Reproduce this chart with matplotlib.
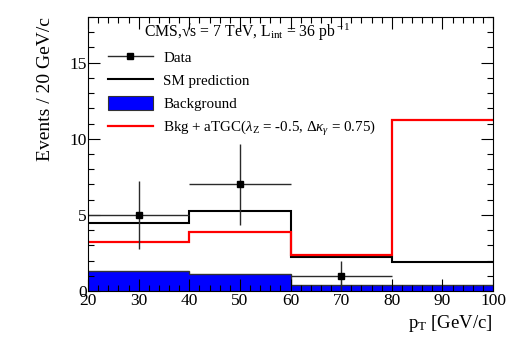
import matplotlib
matplotlib.use("Agg")
import matplotlib.pyplot as plt
from matplotlib.lines import Line2D
from matplotlib.patches import Patch
from matplotlib.ticker import MultipleLocator

plt.rcParams['font.family'] = ['Liberation Serif', 'DejaVu Serif']
plt.rcParams['mathtext.fontset'] = 'custom'
plt.rcParams['mathtext.rm'] = 'Liberation Serif'
plt.rcParams['mathtext.it'] = 'Liberation Serif:italic'
plt.rcParams['mathtext.fallback'] = 'stix'

# bin edges in pT [GeV/c]
edges = [20, 40, 60, 80, 100]
# histograms
background = [1.3, 1.1, 0.4, 0.4]
sm_pred = [4.45, 5.25, 2.25, 1.93]
atgc = [3.2, 3.9, 2.35, 11.25]
# data points
data_x = [30, 50, 70]
data_y = [5, 7, 1]
data_err = [2.24, 2.65, 1.0]
data_xerr = [10, 10, 10]

fig = plt.figure(figsize=(5.19, 3.51), dpi=100)
ax = fig.add_axes([0.1696, 0.171, 0.7804, 0.7806])

ax.stairs(background, edges, fill=True, facecolor='#0000ff', edgecolor='none')
ax.stairs(background, edges, baseline=None, color='#333333', lw=1.0)
ax.stairs(sm_pred, edges, baseline=None, color='black', lw=1.5)
ax.stairs(atgc, edges, baseline=None, color='#ff0000', lw=1.6)
ax.errorbar(data_x, data_y, yerr=data_err, xerr=data_xerr, fmt='s', color='black',
            ecolor='#2a2a2a', elinewidth=1.0, ms=4.5, capsize=0)

ax.set_xlim(20, 100)
ax.set_ylim(0, 18)
ax.xaxis.set_major_locator(MultipleLocator(10))
ax.xaxis.set_minor_locator(MultipleLocator(2))
ax.yaxis.set_major_locator(MultipleLocator(5))
ax.yaxis.set_minor_locator(MultipleLocator(1))
ax.tick_params(which='both', direction='in', top=True, right=True, labelsize=12.5)
ax.tick_params(which='major', length=8.5, width=0.8)
ax.tick_params(which='minor', length=4.3, width=0.8)
ax.tick_params(axis='x', pad=1.5)
ax.tick_params(axis='y', pad=1)

ax.set_ylabel('Events / 20 GeV/c', fontsize=14, loc='top', labelpad=11)
ax.set_xlabel(r'p$_{\rm T}$ [GeV/c]', fontsize=13.5, loc='right', labelpad=3)

ax.text(0.138, 0.945, 'CMS,\u221as = 7 TeV, L$_{\\rm int}$ = 36 pb$^{\\rm -1}$',
        transform=ax.transAxes, fontsize=11.3, va='center', ha='left')

handles = [
    Line2D([], [], color='#2a2a2a', lw=1.0, marker='s', ms=4.5, mfc='black', mec='black'),
    Line2D([], [], color='black', lw=1.5),
    Patch(facecolor='#0000ff', edgecolor='#333333', lw=0.8),
    Line2D([], [], color='#ff0000', lw=1.6),
]
labels = ['Data', 'SM prediction', 'Background',
          r'Bkg + aTGC($\lambda_{\rm Z}$ = -0.5, $\Delta\kappa_{\gamma}$ = 0.75)']
ax.legend(handles, labels, loc='upper left', bbox_to_anchor=(0.049, 0.879),
          frameon=False, fontsize=10.8, handlelength=3.0, handleheight=1.0,
          handletextpad=0.7, labelspacing=0.55, borderpad=0, borderaxespad=0)

fig.savefig('out.png', dpi=100)
